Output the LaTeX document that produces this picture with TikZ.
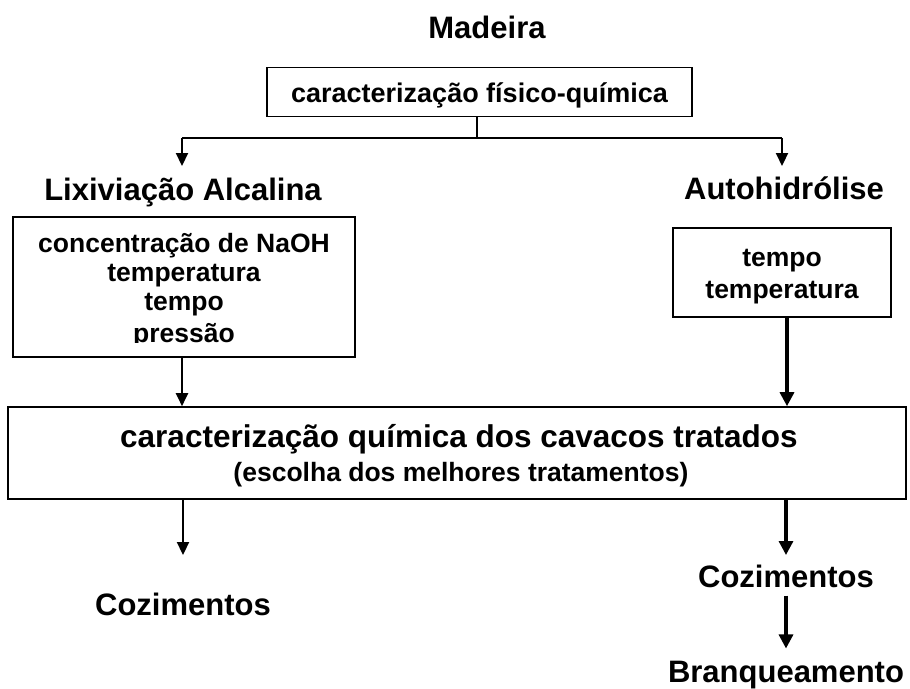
\documentclass[tikz,border=0pt]{standalone}
\usepackage{fontspec}
\setmainfont{Liberation Sans}
\usetikzlibrary{arrows.meta}
\tikzset{
  hd/.style={font=\fontsize{31}{34}\selectfont\bfseries, inner sep=0pt, anchor=base},
  bx/.style={draw, line width=1.6pt, inner sep=0pt},
  tx/.style={font=\fontsize{26.5}{29}\selectfont\bfseries, inner sep=0pt, anchor=base},
  thinln/.style={line width=1.2pt},
  arr/.style={line width=2.2pt, -{Triangle[length=13pt,width=12pt]}},
  arrb/.style={line width=3.2pt, -{Triangle[length=14pt,width=14pt]}},
}
\begin{document}
\begin{tikzpicture}[x=1pt,y=-1pt]
\useasboundingbox (0,0) rectangle (910,688);
% title
\node[hd] (mad) at (487,38) {Madeira};
% top box
\node[bx, minimum width=425pt, minimum height=49pt] (top) at (479.5,92) {};
\node[tx, font=\fontsize{27}{30}\selectfont\bfseries] (toptx) at (479.5,102) {caracterização físico-química};
\coordinate (split) at (477,138);
\coordinate (lsplit) at (182,138);
\coordinate (rsplit) at (782,138);
\coordinate (larr) at (182,166);
\coordinate (rarr) at (782,166);
\draw[thinln] (top.south -| split) -- (split);
\draw[thinln] (lsplit) -- (rsplit);
\draw[arr] (lsplit) -- (larr);
\draw[arr] (rsplit) -- (rarr);
% headings
\node[hd] (lix) at (183,200) {Lixiviação Alcalina};
\node[hd] (auto) at (784,199) {Autohidrólise};
% left box
\node[bx, minimum width=342pt, minimum height=140pt] (lbox) at (184,287) {};
\begin{scope}
\clip (14,218) rectangle (354,342);
\node[tx] (l1) at (184,252) {concentração de NaOH};
\node[tx] (l2) at (184,281) {temperatura};
\node[tx] (l3) at (184,310) {tempo};
\node[tx] (l4) at (184,342) {pressão};
\end{scope}
% right box
\node[bx, minimum width=218pt, minimum height=89pt] (rbox) at (782,272.5) {};
\node[tx] (r1) at (782,266) {tempo};
\node[tx] (r2) at (782,298) {temperatura};
% big box
\node[bx, minimum width=898pt, minimum height=92pt] (big) at (457,453) {};
\node[font=\fontsize{31.5}{34}\selectfont\bfseries, inner sep=0pt, anchor=base] (b1) at (459,447) {caracterização química dos cavacos tratados};
\node[font=\fontsize{26.5}{29}\selectfont\bfseries, inner sep=0pt, anchor=base] (b2) at (461,481) {(escolha dos melhores tratamentos)};
\draw[arr] (lbox.south -| 182,0) -- (182,0 |- big.north);
\draw[arrb] (rbox.south -| 787,0) -- (787,0 |- big.north);
% bottom
\node[hd] (cozl) at (183,615) {Cozimentos};
\node[hd] (cozr) at (786,587) {Cozimentos};
\node[hd] (bran) at (786,682) {Branqueamento};
\draw[arr] (big.south -| 183,0) -- (183,555);
\draw[arrb] (big.south -| 786,0) -- (786,555);
\draw[arrb, shorten <=8pt, shorten >=12pt] (cozr.south) -- (bran.north);
\end{tikzpicture}
\end{document}
